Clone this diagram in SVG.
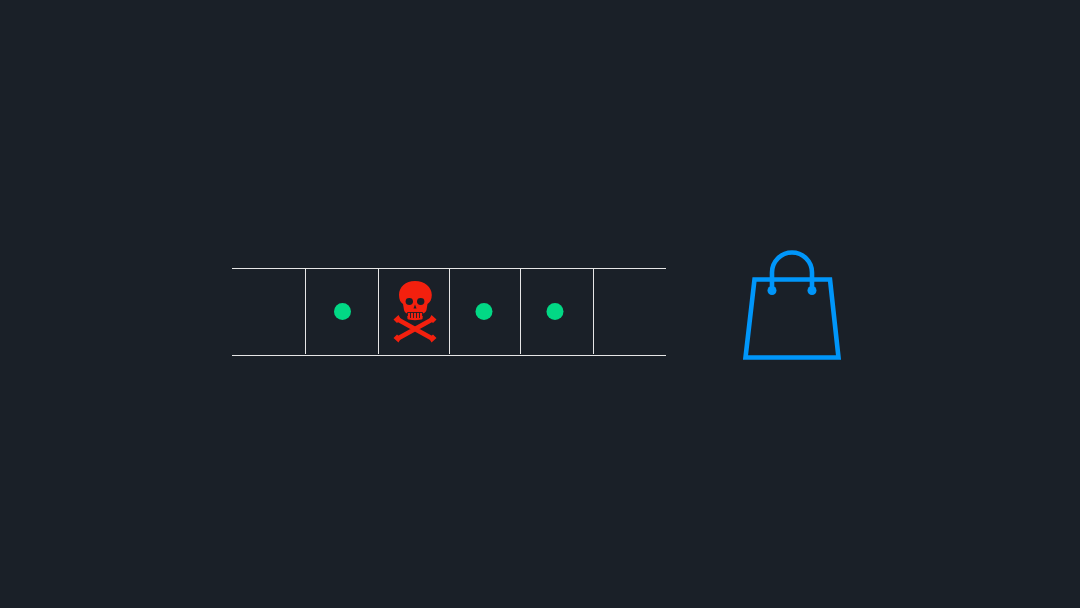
<svg xmlns="http://www.w3.org/2000/svg" width="1080" height="608" viewBox="0 0 1080 608">
<style>
.rail{stroke:#e6e6e6;stroke-width:1;fill:none}
.dot{fill:#02d885}
.bag{fill:none;stroke:#0096fa;stroke-width:4.600;stroke-linejoin:miter}
.skull{fill:#f3200e}
.hole{fill:#1a2028}
.bone{fill:none;stroke:#f3200e;stroke-width:4.800}
</style>
<rect width="1080" height="608" fill="#1a2028"/>
<g id="track" class="rail">
<path d="M232 268.500H666M232 355.500H666"/>
<path d="M305.500 269V354M378.500 269V354M449.500 269V354M520.500 269V354M593.500 269V354"/>
</g>
<g id="dot1"><circle class="dot" cx="342.500" cy="311.500" r="8.500"/></g>
<g id="skull" class="skull">
<path class="bone" d="M397 319L433 339M433 319L397 339"/>
<path d="M393.500 319.500L398.500 315L401 319.500L397 323ZM436.500 319.500L431.500 315L429 319.500L433 323ZM393.500 338L398.500 342.500L401 338L397 334.500ZM436.500 338L431.500 342.500L429 338L433 334.500Z"/>
<path d="M415 281C405.500 281 399 287 399 295C399 299.500 400.500 302.500 403 304L404 310C404.500 312 405.500 313 407 313.500L407.500 319C409 320.500 421 320.500 422.500 319L423 313.500C424.500 313 426 312 426.500 310L427.500 304C430 302.500 431.800 299.500 431.800 295C431.800 287 424.500 281 415 281Z"/>
<ellipse class="hole" cx="409.300" cy="301.500" rx="3.700" ry="3.400"/>
<ellipse class="hole" cx="420.700" cy="301.500" rx="3.700" ry="3.400"/>
<path class="hole" d="M415 304.500L413.500 308.500H416.500Z"/>
<path d="M407.500 312.500H422.500M407.500 312.500V316M410.500 312.500V318M413.500 312.500V318M416.500 312.500V318M419.500 312.500V318M422.500 312.500V316" fill="none" stroke="#1a2028" stroke-width="0.900"/>
</g>
<g id="dot2"><circle class="dot" cx="484" cy="311.500" r="8.500"/></g>
<g id="dot3"><circle class="dot" cx="555" cy="311.500" r="8.500"/></g>
<g id="bag">
<path class="bag" d="M754.500 279.500H830L838.500 357.500H745.500Z"/>
<path class="bag" d="M772 290V272.500A20 20 0 0 1 812 272.500V290"/>
<circle cx="772" cy="290.500" r="4.500" fill="#0096fa"/>
<circle cx="812" cy="290.500" r="4.500" fill="#0096fa"/>
</g>
</svg>
